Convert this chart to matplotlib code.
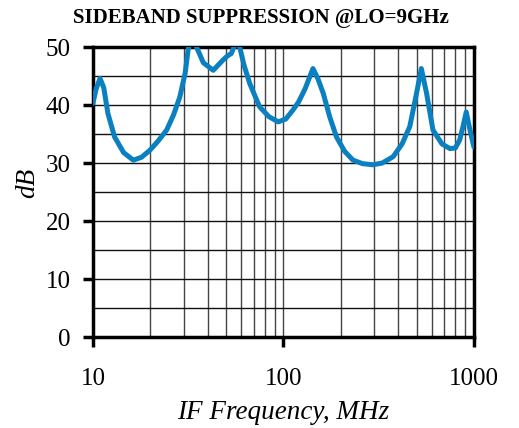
import matplotlib
matplotlib.use("Agg")
import matplotlib.pyplot as plt
from matplotlib.ticker import FixedLocator, NullFormatter, LogLocator

freq_mhz = [10.0, 10.4, 10.9, 11.4, 12.0, 13.0, 14.5, 16.3, 18.0, 19.9, 22.0, 24.4, 26.5, 28.6, 30.5, 31.6,
            33.0, 35.0, 38.0, 42.8, 45.5, 48.3, 51.0, 53.3, 55.0, 57.0, 59.0, 62.0, 66.6, 75.0, 84.0,
            94.0, 103.0, 112.0, 120.0, 130.0, 143.0, 152.0, 162.0, 175.0, 190.0, 210.0, 232.0, 260.0,
            295.0, 330.0, 377.0, 420.0, 461.0, 500.0, 530.0, 565.0, 610.0, 680.0, 748.0, 800.0, 843.0,
            880.0, 912.0, 950.0, 1000.0]
suppression_db = [40.3, 42.8, 44.6, 43.0, 38.5, 34.5, 31.8, 30.5, 31.0, 32.2, 33.8, 35.7, 38.3, 41.4, 45.5, 49.5,
                  52.0, 50.0, 47.3, 46.0, 46.9, 47.8, 48.5, 48.9, 50.0, 51.5, 50.0, 47.0, 43.7, 39.7, 38.0,
                  37.1, 37.6, 39.1, 40.5, 42.8, 46.3, 44.5, 42.0, 38.0, 34.5, 32.0, 30.5, 29.9,
                  29.7, 30.0, 31.1, 33.3, 36.3, 42.0, 46.3, 42.0, 35.7, 33.3, 32.5, 32.6, 34.0,
                  36.5, 38.8, 36.0, 32.8]

x_major = [10, 100, 1000]
x_major_labels = ["10", "100", "1000"]
y_ticks = [0, 10, 20, 30, 40, 50]

plt.rcParams['font.family'] = ['Liberation Serif', 'DejaVu Serif']

fig = plt.figure(figsize=(5.19, 4.28), dpi=100)
ax = fig.add_axes([0.179, 0.2126, 0.734, 0.6774])

ax.plot(freq_mhz, suppression_db, color='#0A80C0', lw=3.6, solid_joinstyle='round', solid_capstyle='round', zorder=3)

ax.set_xscale('log')
ax.set_xlim(10, 1000)
ax.set_ylim(0, 50)

ax.xaxis.set_major_locator(FixedLocator(x_major))
ax.set_xticklabels(x_major_labels)
ax.xaxis.set_minor_locator(LogLocator(base=10, subs=[2, 3, 4, 5, 6, 7, 8, 9]))
ax.xaxis.set_minor_formatter(NullFormatter())
ax.set_yticks(y_ticks)
ax.yaxis.set_minor_locator(FixedLocator([5, 15, 25, 35, 45]))

ax.grid(True, which='both', axis='x', color='#444444', lw=1.0)
ax.grid(True, which='both', axis='y', color='#111111', lw=1.0)
ax.set_axisbelow(True)

ax.tick_params(axis='both', which='major', direction='out', length=7, width=2.5, labelsize=18, colors='black')
ax.tick_params(axis='x', which='major', pad=15)
ax.tick_params(axis='y', which='major', pad=9)
ax.tick_params(axis='both', which='minor', length=0)

for s in ax.spines.values():
    s.set_linewidth(2.5)
    s.set_color('black')

fig.text(0.545, 0.037, 'IF Frequency, MHz', ha='center', va='center', fontsize=19.5, style='italic')
fig.text(0.054, 0.572, 'dB', ha='center', va='center', fontsize=19.5, style='italic', rotation=90)

fig.text(0.503, 0.957, 'SIDEBAND SUPPRESSION @LO=9GHz', ha='center', va='center', fontsize=15, fontweight='bold')

fig.savefig('out.png', dpi=100)
